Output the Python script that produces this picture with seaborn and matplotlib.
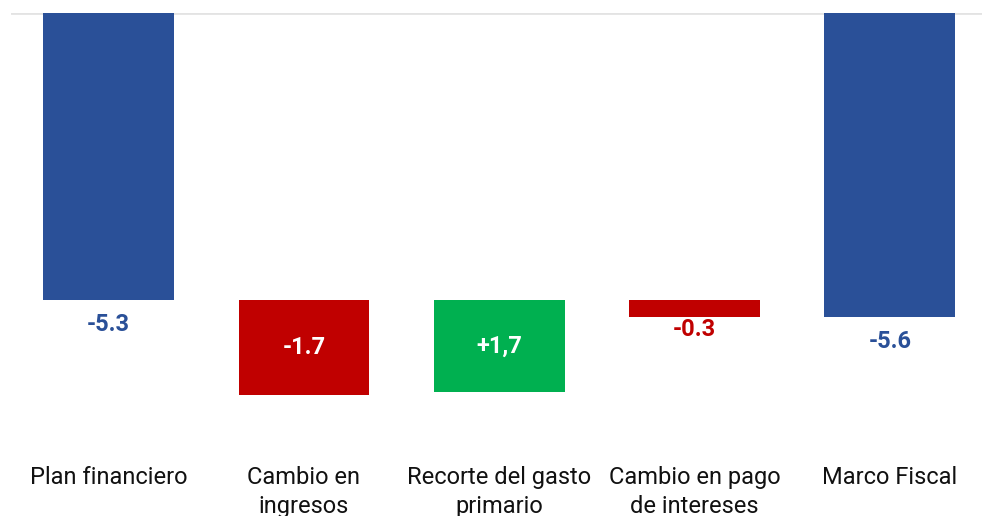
import matplotlib
matplotlib.use("Agg")
import matplotlib.pyplot as plt
import seaborn as sns
import pandas as pd

categories = ["Plan financiero", "Cambio en\ningresos", "Recorte del gasto\nprimario",
              "Cambio en pago\nde intereses", "Marco Fiscal"]
starts = [0.0, -5.3, -7.0, -5.3, 0.0]
changes = [-5.3, -1.75, 1.7, -0.31, -5.61]
value_labels = ["-5.3", "-1.7", "+1,7", "-0.3", "-5.6"]
colors = ["#2A5098", "#C00000", "#00B050", "#C00000", "#2A5098"]

sns.set_theme(style="white")
plt.rcParams["font.family"] = ["Roboto", "DejaVu Sans"]

bottoms = [min(s, s + c) for s, c in zip(starts, changes)]
heights = [abs(c) for c in changes]
df = pd.DataFrame({"cat": categories, "bottom": bottoms, "height": heights, "color": colors})

fig = plt.figure(figsize=(9.82, 5.16), dpi=100)
ax = fig.add_axes([11 / 982, 1 - 455 / 516, 971 / 982, (455 - 13) / 516])

for _, row in df.iterrows():
    sns.barplot(x=[row["cat"]], y=[row["height"]], bottom=row["bottom"], order=categories,
                color=row["color"], width=0.67, ax=ax, saturation=1, linewidth=0,
                errorbar=None)

ax.set_xlim(-0.5, -0.5 + 971 / 195.3)
ax.set_ylim(-(455 - 13) / 54.15, 0)
ax.axhline(0, color="#E3E3E3", lw=2, zorder=0)

for s in ax.spines.values():
    s.set_visible(False)
ax.set_yticks([])
ax.set_xlabel("")
ax.set_ylabel("")
ax.tick_params(axis="x", length=0, pad=8, labelsize=17, labelcolor="#111111")
for t in ax.get_xticklabels():
    t.set_linespacing(1.35)

for i, (s, c, lab, col) in enumerate(zip(starts, changes, value_labels, colors)):
    bot = min(s, s + c)
    top = max(s, s + c)
    if i in (1, 2):
        ax.text(i, (bot + top) / 2, lab, ha="center", va="center", color="white",
                fontsize=17, fontweight="bold")
    else:
        off = 13 if i == 3 else 25
        ax.annotate(lab, (i, bot), xytext=(0, -off), textcoords="offset pixels",
                    ha="center", va="center", color=col, fontsize=17, fontweight="bold")

fig.savefig("out.png", dpi=100)
